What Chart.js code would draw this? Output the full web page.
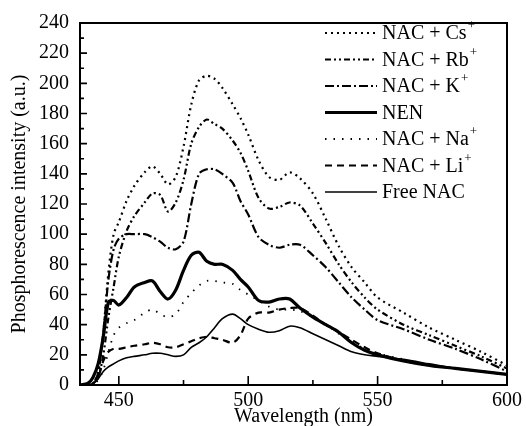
<!DOCTYPE html>
<html>
<head>
<meta charset="utf-8">
<script src="https://cdn.jsdelivr.net/npm/chart.js@4.4.1/dist/chart.umd.min.js"></script>
<style>
  html, body { margin: 0; padding: 0; background: #fff; }
</style>
</head>
<body>
<canvas id="chart" width="526" height="426"></canvas>
<script>
// wavelength grid (nm), shared by every curve
const wavelength = [435, 438, 440, 442, 444, 446, 448, 450, 453, 456, 460, 463, 466, 469, 472, 475, 478, 481, 484, 487,
  490, 494, 497, 500, 504, 508, 512, 516, 520, 525, 530, 535, 540, 545, 550, 560, 570, 580, 590, 600];

const nacCs = [0, 0, 1, 8, 35, 75, 100, 108, 122, 132, 141, 145, 140, 133, 138, 158, 186, 202, 205, 203,
  197, 186, 177, 166, 149, 138, 136, 141, 137, 127, 110, 92, 78, 68, 58, 48, 38, 30, 22, 13];
const nacRb = [0, 0, 1, 5, 20, 45, 65, 85, 102, 112, 121, 127, 126, 115, 121, 136, 160, 171, 176, 173,
  170, 162, 154, 142, 124, 117, 118, 121, 119, 107, 94, 80, 68, 58, 50, 40, 33, 26, 19, 11];
const nacK = [0, 0, 1, 8, 35, 70, 90, 97, 100, 100, 100, 98, 95, 91, 90, 95, 120, 140, 143, 143,
  140, 134, 122, 113, 98, 93, 91, 93, 93, 86, 78, 68, 58, 50, 43, 37, 30, 24, 17, 9];
const nen = [0, 1, 5, 14, 32, 55, 56, 53, 58, 65, 68, 69, 62, 57, 63, 76, 86, 88, 82, 80,
  80, 76, 70, 65, 56, 55, 57, 57, 51, 45, 40, 35, 28, 23, 20, 16, 13, 11, 9, 7];
const nacNa = [0, 0, 1, 3, 10, 22, 33, 38, 41, 43, 48, 50, 47, 45, 47, 55, 61, 66, 69, 69,
  68, 67, 63, 60, 56, 52, 50, 50, 49, 45, 40, 34, 29, 24, 21, 17, 13, 11, 9, 7];
const nacLi = [0, 0, 1, 5, 16, 22, 24, 24, 25, 26, 27, 28, 27, 25, 25, 27, 29, 31, 32, 31,
  30, 28, 33, 44, 48, 48, 50, 51, 51, 46, 40, 35, 30, 25, 21, 16, 13, 11, 9, 7];
const freeNac = [0, 0, 1, 4, 9, 12, 14, 16, 18, 19, 20, 21, 21, 20, 19, 20, 25, 28, 32, 38,
  44, 47, 44, 40, 37, 35, 36, 39, 38, 34, 30, 26, 22, 20, 19, 17, 14, 11, 9, 7];

const seriesNames = ['NAC + Cs', 'NAC + Rb', 'NAC + K', 'NEN', 'NAC + Na', 'NAC + Li', 'Free NAC'];
const seriesCharge = ['+', '+', '+', '', '+', '+', ''];

const yTicks = [0, 20, 40, 60, 80, 100, 120, 140, 160, 180, 200, 220, 240];
const yMinorTicks = [10, 30, 50, 70, 90, 110, 130, 150, 170, 190, 210, 230];
const xTicks = [450, 500, 550, 600];
const xMinorTicks = [475, 525, 575];

const serif = "'Liberation Serif', 'Times New Roman', serif";

const styles = [
  { width: 2.2, dash: [2, 4] },
  { width: 2.2, dash: [6, 3, 2, 3, 2, 3] },
  { width: 2.2, dash: [9, 3, 2, 3] },
  { width: 3.2, dash: [] },
  { width: 1.8, dash: [1.5, 7] },
  { width: 2.2, dash: [7, 5] },
  { width: 1.6, dash: [] }
];

const seriesData = [nacCs, nacRb, nacK, nen, nacNa, nacLi, freeNac];

const datasets = seriesData.map((vals, i) => ({
  label: seriesNames[i] + seriesCharge[i],
  data: vals.map((v, j) => ({ x: wavelength[j], y: v })),
  borderColor: '#000',
  borderWidth: styles[i].width,
  borderDash: styles[i].dash,
  pointRadius: 0,
  tension: 0.3,
  fill: false
}));

const framePlugin = {
  id: 'frame',
  afterDatasetsDraw(chart) {
    const { ctx, chartArea: a, scales: { x, y } } = chart;
    ctx.save();
    ctx.strokeStyle = '#000';
    ctx.setLineDash([]);
    ctx.lineWidth = 2;
    ctx.strokeRect(a.left, a.top, a.right - a.left, a.bottom - a.top);
    ctx.lineWidth = 1.6;
    ctx.beginPath();
    yTicks.forEach(v => { const p = y.getPixelForValue(v); ctx.moveTo(a.left, p); ctx.lineTo(a.left + 7, p); });
    yMinorTicks.forEach(v => { const p = y.getPixelForValue(v); ctx.moveTo(a.left, p); ctx.lineTo(a.left + 4, p); });
    xTicks.forEach(v => { const p = x.getPixelForValue(v); ctx.moveTo(p, a.bottom); ctx.lineTo(p, a.bottom - 9); });
    xMinorTicks.forEach(v => { const p = x.getPixelForValue(v); ctx.moveTo(p, a.bottom); ctx.lineTo(p, a.bottom - 5); });
    ctx.stroke();
    ctx.restore();
  }
};

const legendPlugin = {
  id: 'innerLegend',
  afterDatasetsDraw(chart) {
    const ctx = chart.ctx;
    const x0 = 325, x1 = 377, tx = 382, top = 33, step = 26.5;
    ctx.save();
    ctx.fillStyle = '#000';
    ctx.strokeStyle = '#000';
    ctx.textBaseline = 'middle';
    seriesNames.forEach((name, i) => {
      const yy = top + i * step;
      ctx.lineWidth = styles[i].width;
      ctx.setLineDash(styles[i].dash);
      ctx.beginPath();
      ctx.moveTo(x0, yy);
      ctx.lineTo(x1, yy);
      ctx.stroke();
      ctx.font = '20px ' + serif;
      ctx.fillText(name, tx, yy + 1);
      if (seriesCharge[i]) {
        const w = ctx.measureText(name).width;
        ctx.font = '13px ' + serif;
        ctx.fillText(seriesCharge[i], tx + w + 1, yy - 7);
      }
    });
    ctx.restore();
  }
};

new Chart(document.getElementById('chart'), {
  type: 'line',
  data: { datasets },
  options: {
    responsive: false,
    devicePixelRatio: 1,
    animation: false,
    layout: { padding: { top: 20, right: 18, bottom: 0, left: 0 } },
    plugins: { legend: { display: false }, tooltip: { enabled: false } },
    scales: {
      x: {
        type: 'linear',
        min: 435,
        max: 600,
        afterBuildTicks: s => { s.ticks = xTicks.map(v => ({ value: v })); },
        afterFit: s => { s.height = 41; },
        grid: { display: false, drawTicks: false },
        border: { display: false },
        ticks: { color: '#000', font: { family: serif, size: 20 }, padding: 4, maxRotation: 0 },
        title: { display: true, text: '    Wavelength (nm)', color: '#000', font: { family: serif, size: 20 }, padding: { top: 0, bottom: -3 } }
      },
      y: {
        type: 'linear',
        min: 0,
        max: 240,
        afterBuildTicks: s => { s.ticks = yTicks.map(v => ({ value: v })); },
        afterFit: s => { s.width = 80; },
        grid: { display: false, drawTicks: false },
        border: { display: false },
        ticks: { color: '#000', font: { family: serif, size: 20 }, padding: 11 },
        title: { display: true, text: 'Phosphorescence intensity (a.u.)', color: '#000', font: { family: serif, size: 20 }, padding: { top: 8, bottom: 0 } }
      }
    }
  },
  plugins: [framePlugin, legendPlugin]
});
</script>
</body>
</html>
